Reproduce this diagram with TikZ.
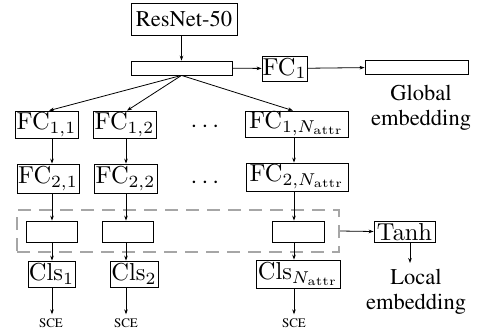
\RequirePackage{fix-cm}
\documentclass[tikz,border=0pt]{standalone}
\usepackage[T1]{fontenc}
\usepackage[no-math]{fontspec}
\usepackage{graphicx}
\usetikzlibrary{arrows.meta}
\newcommand{\timesf}{\fontencoding{T1}\fontfamily{ptm}\selectfont}
\newcommand{\mt}[1]{\scalebox{2.45}{$#1$}}
\newcommand{\tfs}{\timesf\fontsize{22.5}{25.5}\selectfont}
\begin{document}
\begin{tikzpicture}[x=1pt,y=-1pt,
  box/.style={draw, line width=0.8pt, inner sep=0pt, font=\normalsize},
  arr/.style={-{Stealth[length=5pt,width=3.6pt]}, line width=0.8pt},
  lbl/.style={inner sep=0pt, align=center, font=\tfs},
  sce/.style={inner sep=4pt, font=\timesf\fontsize{13}{15}\selectfont},
  grp/.style={draw=black!35, dash pattern=on 13pt off 8pt, line width=2.4pt, inner sep=0pt}]
\useasboundingbox (0,0) rectangle (479,333);
% columns
\coordinate (c1) at (52,0);
\coordinate (c2) at (126,0);
\coordinate (c3) at (294,0);
% top
\node[box, font=\tfs, minimum width=106pt, minimum height=32pt] (resnet) at (184,19) {ResNet-50};
\node[box, minimum width=101pt, minimum height=14pt] (bar) at (181.5,68) {};
\node[box, minimum width=45pt, minimum height=25pt] (fc1) at (284.5,68.5) {\mt{\mathrm{FC}_1}};
\node[box, minimum width=103pt, minimum height=14pt] (gbar) at (416.5,67) {};
\node[lbl, anchor=north] (glob) at (421,85) {Global\\embedding};
% row 1
\node[box, minimum width=63pt, minimum height=27pt] (fc11) at (46.5,124.5) {\mt{\mathrm{FC}_{1,1}}};
\node[box, minimum width=63pt, minimum height=27pt] (fc12) at (124.5,124.5) {\mt{\mathrm{FC}_{1,2}}};
\node[inner sep=0pt] (dots1) at (205,127) {\mt{\cdots}};
\node[box, minimum width=103pt, minimum height=26pt] (fc1n) at (296.5,124) {\mt{\mathrm{FC}_{1,N_{\mathrm{attr}}}}};
% row 2
\node[box, minimum width=62pt, minimum height=29pt] (fc21) at (48,178.5) {\mt{\mathrm{FC}_{2,1}}};
\node[box, minimum width=63pt, minimum height=29pt] (fc22) at (125.5,178.5) {\mt{\mathrm{FC}_{2,2}}};
\node[inner sep=0pt] (dots2) at (205,183) {\mt{\cdots}};
\node[box, minimum width=102pt, minimum height=28pt] (fc2n) at (297,177) {\mt{\mathrm{FC}_{2,N_{\mathrm{attr}}}}};
% group
\node[grp, minimum width=322pt, minimum height=42pt] (group) at (178,231) {};
\node[box, minimum width=51pt, minimum height=21pt] (in1) at (51.5,231.5) {};
\node[box, minimum width=51pt, minimum height=21pt] (in2) at (127.5,231.5) {};
\node[box, minimum width=52pt, minimum height=21pt] (inn) at (298,231.5) {};
\node[box, minimum width=61pt, minimum height=21pt] (tanh) at (404.5,231.5) {\mt{\mathrm{Tanh}}};
\node[lbl, anchor=north] (loc) at (416,269) {Local\\embedding};
\coordinate (tanhend) at (410,263);
% cls
\node[box, minimum width=47pt, minimum height=26pt] (cls1) at (51.5,274) {\mt{\mathrm{Cls}_1}};
\node[box, minimum width=48pt, minimum height=26pt] (cls2) at (134,274) {\mt{\mathrm{Cls}_2}};
\node[box, minimum width=84pt, minimum height=28pt] (clsn) at (298,274) {\mt{\mathrm{Cls}_{N_{\mathrm{attr}}}}};
\node[sce] (sce1) at (51,323) {SCE};
\node[sce] (sce2) at (126,323) {SCE};
\node[sce] (scen) at (294,323) {SCE};
% connectors
\draw[arr] (resnet.south -| bar.north) -- (bar.north);
\draw[arr] (bar) -- (fc1);
\draw[arr] (fc1) -- (gbar);
\draw[arr] (bar.south) -- (fc11.north -| 49,0);
\draw[arr] (bar.south) -- (fc12.north -| 127,0);
\draw[arr] (bar.south) -- (fc1n.north -| 293,0);
\draw[arr] (fc11.south -| c1) -- (fc21.north -| c1);
\draw[arr] (fc12.south -| c2) -- (fc22.north -| c2);
\draw[arr] (fc1n.south -| c3) -- (fc2n.north -| c3);
\draw[arr] (fc21.south -| c1) -- (in1.north -| c1);
\draw[arr] (fc22.south -| c2) -- (in2.north -| c2);
\draw[arr] (fc2n.south -| c3) -- (inn.north -| c3);
\draw[arr] (in1.south -| c1) -- (cls1.north -| c1);
\draw[arr] (in2.south -| c2) -- (cls2.north -| c2);
\draw[arr] (inn.south -| c3) -- (clsn.north -| c3);
\draw[arr] (cls1.south -| c1) -- (sce1.north -| c1);
\draw[arr] (cls2.south -| c2) -- (sce2.north -| c2);
\draw[arr] (clsn.south -| c3) -- (scen.north -| c3);
\draw[arr] (group.east) -- (tanh.west);
\draw[arr] (tanh.south -| tanhend) -- (tanhend);
\end{tikzpicture}
\end{document}
